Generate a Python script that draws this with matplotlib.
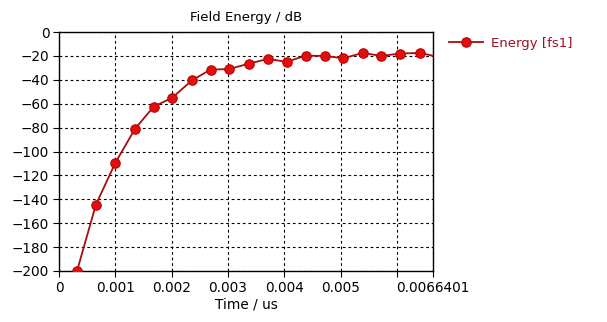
import matplotlib.pyplot as plt
import numpy as np

# --- Data ---
time_us = [0.00032, 0.000655, 0.00100, 0.00135, 0.00168, 0.00201, 0.00236,
           0.00269, 0.00302, 0.00337, 0.00371, 0.00404, 0.00438, 0.00472,
           0.00505, 0.00539, 0.00572, 0.00606, 0.00641, 0.00675]
energy_db = [-200, -144.5, -109.5, -81, -62.5, -55, -40.5,
             -31.5, -31, -26.5, -22.5, -25, -19.8, -20,
             -22, -17.5, -20, -18, -17.5, -21]
x_ticks = [0, 0.001, 0.002, 0.003, 0.004, 0.005, 0.006, 0.0066401]
x_tick_labels = ['0', '0.001', '0.002', '0.003', '0.004', '0.005', '', '0.0066401']
y_ticks = list(range(-200, 1, 20))

X_MAX = 0.0066401

fig = plt.figure(figsize=(6.07, 3.22), dpi=100)
ax = fig.add_axes([0.0972, 0.1584, 0.6161, 0.7422])

ax.plot(time_us, energy_db, color='#a80c0c', lw=1.3, marker='o', ms=6.8,
        markerfacecolor='#e01010', markeredgecolor='#c00000', markeredgewidth=0.8,
        label='Energy [fs1]', clip_on=True, zorder=3)

ax.set_xlim(0, X_MAX)
ax.set_ylim(-200, 0)
ax.set_xticks(x_ticks)
ax.set_xticklabels(x_tick_labels)
ax.set_yticks(y_ticks)
ax.tick_params(direction='out', length=4, width=0.8, labelsize=9.8, colors='black', pad=3)

ax.grid(True, color='black', linestyle=(0, (2.5, 2.5)), linewidth=0.8)
for sp in ax.spines.values():
    sp.set_color('black')
    sp.set_linewidth(1.0)

ax.set_title('Field Energy / dB', fontsize=9.5, pad=8)
ax.set_xlabel('Time / us', fontsize=9.8, labelpad=2)

leg = ax.legend(loc='upper left', bbox_to_anchor=(1.01, 1.03), frameon=False,
                fontsize=9.5, handlelength=2.6, handletextpad=0.6)
for t in leg.get_texts():
    t.set_color('#a01020')

plt.savefig('out.png', dpi=100)
plt.close()
